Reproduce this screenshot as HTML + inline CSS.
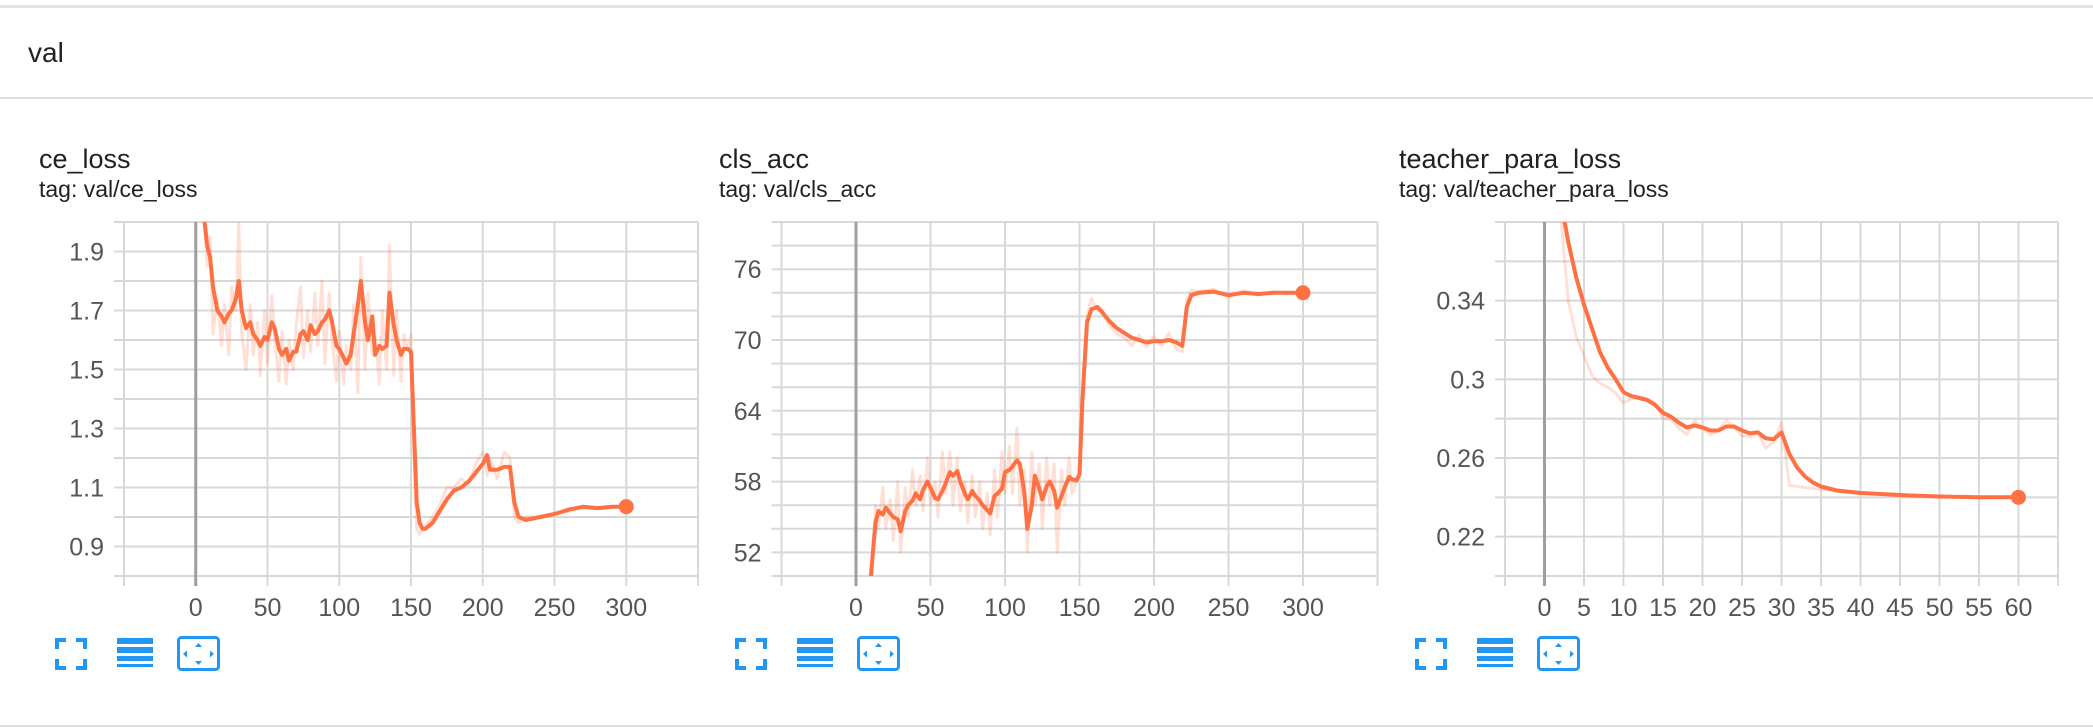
<!DOCTYPE html>
<html><head><meta charset="utf-8"><style>
body{margin:0;background:#fff;width:2093px;height:728px;overflow:hidden;font-family:"Liberation Sans",sans-serif}
svg{position:absolute;left:0;top:0}
</style></head><body>
<svg id="s" width="2093" height="728" xmlns="http://www.w3.org/2000/svg">
<rect x="0" y="5" width="2093" height="3" fill="#e3e3e3"/>
<text x="28" y="62" font-size="28" fill="#212121">val</text>
<rect x="0" y="97" width="2093" height="2" fill="#e0e0e0"/>
<rect x="0" y="725" width="2093" height="2" fill="#e0e0e0"/>
</svg>
<script>
// ce_loss data
const ceSteps=[5,8,10,12,15,18,20,23,25,28,30,32,35,38,40,43,45,48,50,53,55,58,60,63,65,68,70,73,75,78,80,83,85,88,90,93,95,98,100,103,105,108,110,113,115,118,120,123,125,128,130,133,135,138,140,143,145,148,150,152,154,156,158,160,165,170,175,180,185,190,195,200,203,205,210,215,219,222,225,230,240,250,260,270,280,290,300];
const ceSmooth=[2.05,1.92,1.88,1.78,1.70,1.68,1.66,1.69,1.70,1.74,1.80,1.70,1.64,1.66,1.62,1.60,1.58,1.61,1.60,1.66,1.64,1.57,1.55,1.57,1.53,1.56,1.56,1.62,1.63,1.60,1.65,1.62,1.63,1.66,1.67,1.70,1.66,1.58,1.57,1.54,1.52,1.55,1.62,1.72,1.80,1.66,1.60,1.68,1.55,1.58,1.57,1.58,1.76,1.65,1.60,1.55,1.57,1.57,1.56,1.30,1.05,0.98,0.96,0.96,0.98,1.02,1.06,1.09,1.10,1.12,1.15,1.18,1.21,1.16,1.16,1.17,1.17,1.05,1.00,0.99,1.00,1.01,1.025,1.035,1.03,1.035,1.035];
const ceRaw=[2.10,1.85,1.95,1.62,1.74,1.58,1.72,1.55,1.78,1.70,2.00,1.62,1.50,1.72,1.55,1.66,1.48,1.70,1.52,1.75,1.60,1.46,1.63,1.45,1.60,1.50,1.65,1.78,1.54,1.70,1.56,1.76,1.58,1.80,1.52,1.76,1.60,1.46,1.63,1.45,1.58,1.50,1.72,1.42,1.88,1.50,1.76,1.55,1.62,1.45,1.70,1.50,1.92,1.48,1.70,1.46,1.62,1.56,1.62,1.20,0.96,0.94,0.96,0.97,1.00,1.04,1.10,1.10,1.13,1.11,1.18,1.22,1.14,1.20,1.13,1.22,1.20,1.00,0.98,1.00,1.00,1.01,1.02,1.03,1.03,1.035,1.035];
const ceYTicks=["0.9","1.1","1.3","1.5","1.7","1.9"];
const ceXTicks=["0","50","100","150","200","250","300"];
// cls_acc data
const accSteps=[10,13,15,18,20,23,25,28,30,33,35,38,40,43,45,48,50,53,55,58,60,63,65,68,70,73,75,78,80,83,85,88,90,93,95,98,100,103,105,108,110,113,115,118,120,123,125,128,130,133,135,138,140,143,145,148,150,152,155,158,162,165,170,175,180,185,190,195,200,205,210,215,219,222,225,230,240,250,260,270,280,290,300];
const accSmooth=[50.0,54.5,55.5,55.2,55.8,55.3,55.0,54.8,53.8,55.5,56.0,56.4,57.0,56.5,57.3,58.0,57.5,56.6,56.5,57.2,57.8,58.8,58.5,58.9,58.0,57.0,56.5,57.2,56.8,56.4,56.0,55.6,55.3,56.8,57.0,57.4,58.8,59.0,59.3,59.8,59.5,57.0,54.0,56.0,58.5,57.4,56.5,57.6,58.0,57.2,55.8,56.8,57.5,58.4,58.2,58.1,58.6,65,71.5,72.6,72.8,72.4,71.6,71.0,70.6,70.2,70.0,69.8,69.9,69.9,70.0,69.8,69.5,72.8,73.8,74.0,74.1,73.8,74.0,73.9,74.0,74.0,74.0];
const accRaw=[48.0,56.0,54.0,57.5,54.0,56.5,53.0,58.0,52.0,57.5,55.0,59.0,56.0,58.5,55.5,60.0,56.0,58.0,55.0,60.5,57.0,60.5,56.0,60.0,55.5,58.0,54.5,58.5,55.0,58.0,54.0,57.0,53.5,59.0,55.0,60.5,57.0,61.0,57.0,62.5,56.0,59.0,52.0,60.5,56.0,59.5,54.0,60.0,56.0,59.5,52.0,59.0,56.0,60.0,57.0,58.0,59.0,66,72.0,73.5,72.5,72.6,71.2,70.5,70.2,69.5,70.4,69.4,70.3,69.5,70.6,69.2,69.0,73.5,74.2,74.1,74.3,73.6,74.2,73.8,74.1,73.9,74.0];
const accYTicks=["52","58","64","70","76"];
const accXTicks=["0","50","100","150","200","250","300"];
// teacher_para_loss data
const tpSteps=[2,3,4,5,6,7,8,9,10,11,12,13,14,15,16,17,18,19,20,21,22,23,24,25,26,27,28,29,30,31,32,33,34,35,37,40,45,50,55,60];
const tpSmooth=[0.392,0.370,0.352,0.338,0.326,0.314,0.306,0.300,0.2935,0.2915,0.2905,0.2895,0.287,0.283,0.281,0.278,0.2755,0.2765,0.2755,0.274,0.274,0.276,0.276,0.274,0.2725,0.273,0.270,0.2695,0.273,0.262,0.255,0.2505,0.2475,0.2455,0.2435,0.2422,0.2412,0.2404,0.2400,0.2400];
const tpRaw=[0.385,0.340,0.322,0.312,0.302,0.298,0.296,0.293,0.288,0.290,0.291,0.290,0.288,0.280,0.280,0.275,0.272,0.279,0.275,0.272,0.274,0.279,0.276,0.271,0.271,0.273,0.265,0.268,0.278,0.246,0.2455,0.245,0.2445,0.2442,0.2435,0.2425,0.241,0.2402,0.240,0.240];
const tpYTicks=["0.22","0.26","0.3","0.34"];
const tpXTicks=["0","5","10","15","20","25","30","35","40","45","50","55","60"];

const NS="http://www.w3.org/2000/svg";
const svg=document.getElementById('s');
function mk(tag,attrs,parent){const e=document.createElementNS(NS,tag);for(const k in attrs)e.setAttribute(k,attrs[k]);(parent||svg).appendChild(e);return e;}

function chart(cfg){
  const g=mk('g',{});
  
  
  const L=cfg.left,R=cfg.right,T=222,B=576;
  const sx=v=>L+(v-cfg.xmin)/(cfg.xmax-cfg.xmin)*(R-L);
  const sy=v=>B-(v-cfg.ymin)/(cfg.ymax-cfg.ymin)*(B-T);
  const t=mk('text',{x:cfg.tx,y:168,'font-size':27,fill:'#212121'},g);t.textContent=cfg.name;
  
  
  const tg=mk('text',{x:cfg.tx,y:197,'font-size':23,fill:'#212121'},g);tg.textContent='tag: val/'+cfg.name;
  
  
  for(let v=cfg.ymin;v<=cfg.ymax+1e-9;v+=cfg.ygrid){
    const y=sy(v);
    const ln=mk('line',{x1:L-10,x2:R,y1:y,y2:y,stroke:'#d8d8d8','stroke-width':2},g);
    
    
  }
  for(let v=cfg.xmin;v<=cfg.xmax+1e-9;v+=cfg.xgrid){
    const x=sx(v);
    const ln=mk('line',{x1:x,x2:x,y1:T,y2:B+10,stroke:Math.abs(v)<1e-9?'#9e9e9e':'#d8d8d8','stroke-width':Math.abs(v)<1e-9?3:2},g);
    
    
  }
  cfg.yt.forEach(s=>{
    const e=mk('text',{x:L-20,y:sy(parseFloat(s))+9,'font-size':25,fill:'#555','text-anchor':'end'},g);e.textContent=s;
    
    
  });
  cfg.xt.forEach(s=>{
    const e=mk('text',{x:sx(parseFloat(s)),y:616,'font-size':25,fill:'#555','text-anchor':'middle'},g);e.textContent=s;
    
    
  });
  const clip=mk('clipPath',{id:'c'+cfg.name},g);mk('rect',{x:L,y:T,width:R-L,height:B-T},clip);
  const pts=a=>cfg.steps.map((s,i)=>sx(s).toFixed(1)+','+sy(a[i]).toFixed(1)).join(' ');
  const raw=mk('polyline',{points:pts(cfg.raw),fill:'none',stroke:'#ff7043','stroke-opacity':0.22,'stroke-width':3,'clip-path':'url(#c'+cfg.name+')','stroke-linejoin':'round'},g);
  
  
  const sm=mk('polyline',{points:pts(cfg.smooth),fill:'none',stroke:'#ff7043','stroke-width':4,'clip-path':'url(#c'+cfg.name+')','stroke-linejoin':'round'},g);
  
  
  const n=cfg.steps.length-1;
  const d=mk('circle',{cx:sx(cfg.steps[n]),cy:sy(cfg.smooth[n]),r:7.5,fill:'#ff7043'},g);
  
  
  const ix=cfg.tx+18;
  const fs=mk('g',{transform:'translate('+ix+',640)'},g);
  
  
  ['M0 9V0H9','M19 0H28V9','M28 19V28H19','M9 28H0V19'].forEach(p=>mk('path',{d:p,fill:'none',stroke:'#2196f3','stroke-width':4},fs));
  const lb=mk('g',{transform:'translate('+(ix+60)+',638)'},g);
  
  
  [0,9,18,26].forEach((y,i)=>mk('rect',{x:0,y:y,width:36,height:i<2?6:i==2?5:3,fill:'#2196f3'},lb));
  const fb=mk('g',{transform:'translate('+(ix+120)+',636)'},g);
  
  
  mk('rect',{x:1.5,y:1.5,width:40,height:32,rx:3,fill:'none',stroke:'#2196f3','stroke-width':3},fb);
  ['M21.5 7L18 11H25Z','M21.5 29L18 25H25Z','M6 18L10 14.5V21.5Z','M37 18L33 14.5V21.5Z'].forEach(p=>mk('path',{d:p,fill:'#2196f3'},fb));
}
chart({name:'ce_loss',tx:39,left:124,right:698,xmin:-50,xmax:350,xgrid:50,ymin:0.8,ymax:2.0,ygrid:0.1,steps:ceSteps,smooth:ceSmooth,raw:ceRaw,yt:ceYTicks,xt:ceXTicks});
chart({name:'cls_acc',tx:719,left:781.5,right:1377.5,xmin:-50,xmax:350,xgrid:50,ymin:50,ymax:80,ygrid:2,steps:accSteps,smooth:accSmooth,raw:accRaw,yt:accYTicks,xt:accXTicks});
chart({name:'teacher_para_loss',tx:1399,left:1505,right:2058,xmin:-5,xmax:65,xgrid:5,ymin:0.20,ymax:0.38,ygrid:0.02,steps:tpSteps,smooth:tpSmooth,raw:tpRaw,yt:tpYTicks,xt:tpXTicks});
</script>
</body></html>
